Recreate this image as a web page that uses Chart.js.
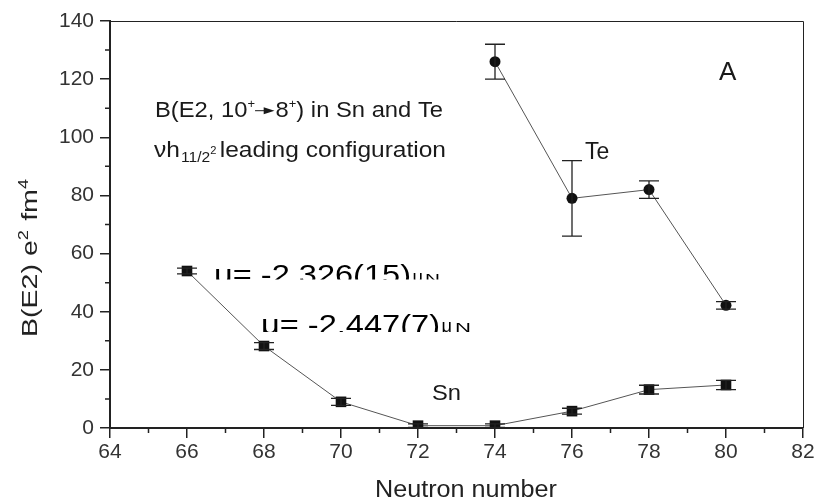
<!DOCTYPE html>
<html><head><meta charset="utf-8">
<script src="https://cdn.jsdelivr.net/npm/chart.js@4.4.1/dist/chart.umd.min.js"></script>
<style>html,body{margin:0;padding:0;background:#fff}#wrap{width:819px;height:499px}</style>
</head><body><div id="wrap"><canvas id="c" width="819" height="499"></canvas></div>
<script>
// ---- data ----
const snNeutrons = [66, 68, 70, 72, 74, 76, 78, 80];
const snValues   = [54, 28.2, 9, 0.8, 0.8, 5.8, 13.2, 14.8];
const snErrors   = [1, 1.2, 1.2, 0.6, 0.6, 1, 1.5, 1.6];
const teNeutrons = [74, 76, 78, 80];
const teValues   = [126, 79, 82, 42.2];
const teErrors   = [6, 13, 3, 1.3];
const xRange = [64, 82];
const yRange = [0, 140];
const xTitle = 'Neutron number';

const FONT = "'Liberation Sans', Arial, Helvetica, sans-serif";

// draw text; if w given, stretch horizontally to that width
function txt(ctx, s, x, y, size, w) {
  ctx.font = size + 'px ' + FONT;
  const m = ctx.measureText(s).width;
  const sx = w ? w / m : 1;
  ctx.save();
  ctx.translate(x, y);
  ctx.scale(sx, 1);
  ctx.fillText(s, 0, 0);
  ctx.restore();
  return m * sx;
}

// rich text: parts laid out in sequence, uniformly stretched to total width W
function rich(ctx, x, y, parts, W) {
  const widthOf = p => {
    if (p.arrow) return p.w;
    ctx.font = p.size + 'px ' + FONT;
    return ctx.measureText(p.t).width;
  };
  let nat = 0;
  parts.forEach(p => { nat += widthOf(p) + (p.gap || 0); });
  const sx = W ? W / nat : 1;
  ctx.save();
  ctx.translate(x, y);
  ctx.scale(sx, 1);
  let cx = 0;
  parts.forEach(p => {
    const w = widthOf(p);
    const dy = p.dy || 0;
    if (p.arrow) {
      ctx.save();
      ctx.strokeStyle = ctx.fillStyle; ctx.lineWidth = 1;
      ctx.beginPath(); ctx.moveTo(cx, dy); ctx.lineTo(cx + w - 8, dy); ctx.stroke();
      ctx.beginPath(); ctx.moveTo(cx + w - 10, dy - 3.5); ctx.lineTo(cx + w, dy); ctx.lineTo(cx + w - 10, dy + 3.5); ctx.closePath(); ctx.fill();
      ctx.restore();
    } else {
      ctx.font = p.size + 'px ' + FONT;
      ctx.fillText(p.t, cx, dy);
    }
    cx += w + (p.gap || 0);
  });
  ctx.restore();
}

const errorBars = {
  id: 'errorBars',
  afterDatasetsDraw(chart) {
    const ctx = chart.ctx, xs = chart.scales.x, ys = chart.scales.y;
    ctx.save();
    ctx.strokeStyle = '#222';
    ctx.lineWidth = 1.3;
    chart.data.datasets.forEach(ds => {
      ds.data.forEach(p => {
        const px = xs.getPixelForValue(p.x);
        const y1 = ys.getPixelForValue(p.y + p.e);
        const y2 = ys.getPixelForValue(p.y - p.e);
        const w = 10;
        ctx.beginPath();
        ctx.moveTo(px, y1); ctx.lineTo(px, y2);
        ctx.moveTo(px - w, y1); ctx.lineTo(px + w, y1);
        ctx.moveTo(px - w, y2); ctx.lineTo(px + w, y2);
        ctx.stroke();
      });
    });
    ctx.restore();
  }
};

const frameAndText = {
  id: 'frameAndText',
  afterDraw(chart) {
    const ctx = chart.ctx, a = chart.chartArea, xs = chart.scales.x, ys = chart.scales.y;
    ctx.save();
    // top and right frame
    ctx.strokeStyle = '#222'; ctx.lineWidth = 1;
    ctx.beginPath();
    ctx.moveTo(a.left, a.top + 0.5); ctx.lineTo(a.right + 0.5, a.top + 0.5); ctx.lineTo(a.right + 0.5, a.bottom);
    ctx.stroke();
    // minor ticks
    ctx.lineWidth = 1.5; ctx.strokeStyle = '#222';
    ctx.beginPath();
    for (let v = xRange[0] + 1; v < xRange[1]; v += 2) {
      const px = xs.getPixelForValue(v);
      ctx.moveTo(px, a.bottom); ctx.lineTo(px, a.bottom + 5);
    }
    for (let v = yRange[0] + 10; v < yRange[1]; v += 20) {
      const py = ys.getPixelForValue(v);
      ctx.moveTo(a.left, py); ctx.lineTo(a.left - 5, py);
    }
    ctx.stroke();

    ctx.textBaseline = 'alphabetic';
    ctx.textAlign = 'left';
    ctx.fillStyle = '#222';

    // axis titles
    txt(ctx, xTitle, 375, 496.5, 23, 182);
    ctx.save();
    ctx.translate(37, 337);
    ctx.rotate(-Math.PI / 2);
    rich(ctx, 0, 0, [
      {t: 'B(E2) e', size: 22},
      {t: '2', size: 14, dy: -9, gap: 1},
      {t: ' fm', size: 22},
      {t: '4', size: 14, dy: -9}
    ], 158);
    ctx.restore();

    // annotations
    ctx.fillStyle = '#1a1a1a';
    rich(ctx, 155, 116.7, [
      {t: 'B(E2, 10', size: 22},
      {t: '+', size: 12, dy: -9},
      {arrow: true, w: 18, dy: -6, gap: 1},
      {t: '8', size: 22},
      {t: '+', size: 12, dy: -9},
      {t: ') in Sn and Te', size: 22}
    ], 288);
    rich(ctx, 154, 156.7, [
      {t: 'νh', size: 22, gap: 1},
      {t: '11/2', size: 14, dy: 5},
      {t: '2', size: 10, dy: -3, gap: 3},
      {t: 'leading configuration', size: 22}
    ], 292);

    txt(ctx, 'A', 719, 79.5, 26);
    txt(ctx, 'Te', 585, 159.3, 23);
    txt(ctx, 'Sn', 432, 399.5, 22, 29);

    // magnetic moments (clipped at the bottom like the original)
    ctx.fillStyle = '#000';
    ctx.save();
    ctx.beginPath(); ctx.rect(200, 250, 300, 29.5); ctx.clip();
    txt(ctx, 'μ= -2.326(15)', 214, 283.5, 28, 197);
    txt(ctx, 'μ', 412.5, 283, 18, 10.5);
    txt(ctx, 'N', 425, 283, 13, 15);
    ctx.restore();
    ctx.save();
    ctx.beginPath(); ctx.rect(250, 300, 300, 32); ctx.clip();
    txt(ctx, 'μ= -2.447(7)', 261, 334, 28, 179);
    txt(ctx, 'μ', 441.5, 331.5, 18, 10.5);
    txt(ctx, 'N', 455, 331.5, 13, 16);
    ctx.restore();
    ctx.restore();
  }
};

const snData = snNeutrons.map((n, i) => ({x: n, y: snValues[i], e: snErrors[i]}));
const teData = teNeutrons.map((n, i) => ({x: n, y: teValues[i], e: teErrors[i]}));

new Chart(document.getElementById('c'), {
  type: 'scatter',
  data: {
    datasets: [
      {label: 'Sn', data: snData, showLine: true, borderColor: '#555', borderWidth: 1,
       pointStyle: 'rect', pointRadius: 7.5, pointBackgroundColor: '#111', pointBorderColor: '#111', pointBorderWidth: 0},
      {label: 'Te', data: teData, showLine: true, borderColor: '#555', borderWidth: 1,
       pointStyle: 'circle', pointRadius: 5.5, pointBackgroundColor: '#111', pointBorderColor: '#111', pointBorderWidth: 0}
    ]
  },
  options: {
    responsive: false,
    animation: false,
    events: [],
    layout: {padding: {top: 21, right: 16, left: 0, bottom: 0}},
    plugins: {legend: {display: false}, tooltip: {enabled: false}},
    scales: {
      x: {
        type: 'linear', min: xRange[0], max: xRange[1],
        afterFit: s => { s.height = 71; },
        ticks: {stepSize: 2, color: '#333', font: {family: FONT, size: 21}, padding: 2, maxRotation: 0},
        grid: {drawOnChartArea: false, tickLength: 10, color: '#222', lineWidth: 1.5},
        border: {display: true, color: '#222', width: 2},
        title: {display: false}
      },
      y: {
        min: yRange[0], max: yRange[1],
        afterFit: s => { s.width = 110; },
        ticks: {stepSize: 20, color: '#333', font: {family: FONT, size: 21}, padding: 6},
        grid: {drawOnChartArea: false, tickLength: 10, color: '#222', lineWidth: 1.5},
        border: {display: true, color: '#222', width: 2},
        title: {display: false}
      }
    }
  },
  plugins: [errorBars, frameAndText]
});
</script></body></html>
